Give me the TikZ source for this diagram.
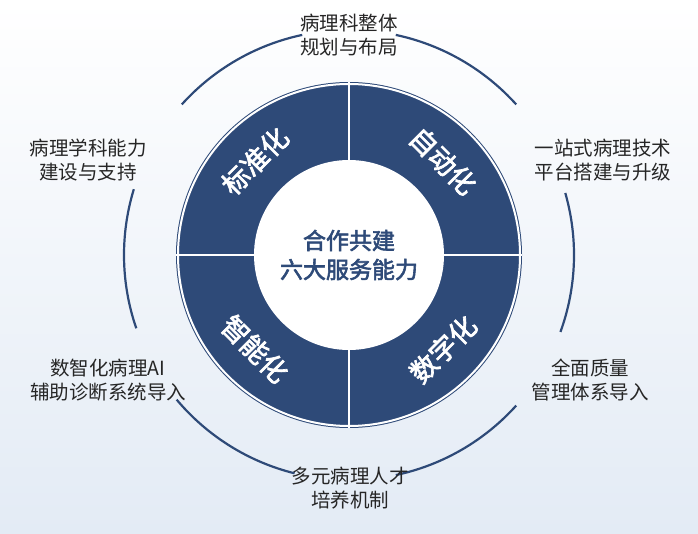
\documentclass[tikz,border=0pt]{standalone}
\usepackage{fontspec}
\setmainfont{Noto Sans CJK SC}
\newfontfamily\heavy{Noto Sans CJK SC}[FakeBold=2.5]
\usetikzlibrary{calc}
\definecolor{ringblue}{HTML}{2E4A78}
\definecolor{bglight}{HTML}{E3EBF5}
\tikzset{
  label/.style={align=center, font=\fontsize{19.5}{24}\selectfont, text=black!85},
  quad/.style={font=\fontsize{27}{30}\heavy, text=white},
}
\begin{document}
\begin{tikzpicture}[x=1pt,y=1pt]
  \shade [top color=white, bottom color=bglight] (0,0) rectangle (698,533);
  \useasboundingbox (0,0) rectangle (698,533);
  \coordinate (c) at (349,278);

  % outer ring, broken where the labels sit
  \foreach \a in {42,102,163,220,282,340}
    \draw [ringblue, line width=2.2pt] ($(c)+(\a:225)$) arc (\a:\a+36:225);

  \fill [ringblue] (c) circle (173);
  \draw [white, line width=2.5pt] ($(c)+(-173,0)$) -- ($(c)+(173,0)$);
  \draw [white, line width=2.5pt] ($(c)+(0,-173)$) -- ($(c)+(0,173)$);
  \draw [white, line width=2pt] (c) circle (171);
  \fill [white] (c) circle (95);

  \node [font=\fontsize{23}{29}\heavy, text=ringblue, align=center] (core) at (c) {合作共建\\六大服务能力};

  \node [quad, rotate=45] (std) at ($(c)+(135:133)$) {标准化};
  \node [quad, rotate=-45] (auto) at ($(c)+(45:133)$) {自动化};
  \node [quad, rotate=-45] (smart) at ($(c)+(225:133)$) {智能化};
  \node [quad, rotate=45] (digit) at ($(c)+(315:133)$) {数字化};

  \node [label] (plan) at (349,498) {病理科整体\\规划与布局};
  \node [label] (build) at (88,373) {病理学科能力\\建设与支持};
  \node [label] (stop) at (603,373) {一站式病理技术\\平台搭建与升级};
  \node [label] (ai) at (108,153) {数智化病理AI\\辅助诊断系统导入};
  \node [label] (qual) at (590,153) {全面质量\\管理体系导入};
  \node [label] (talent) at (350,45) {多元病理人才\\培养机制};
\end{tikzpicture}
\end{document}
